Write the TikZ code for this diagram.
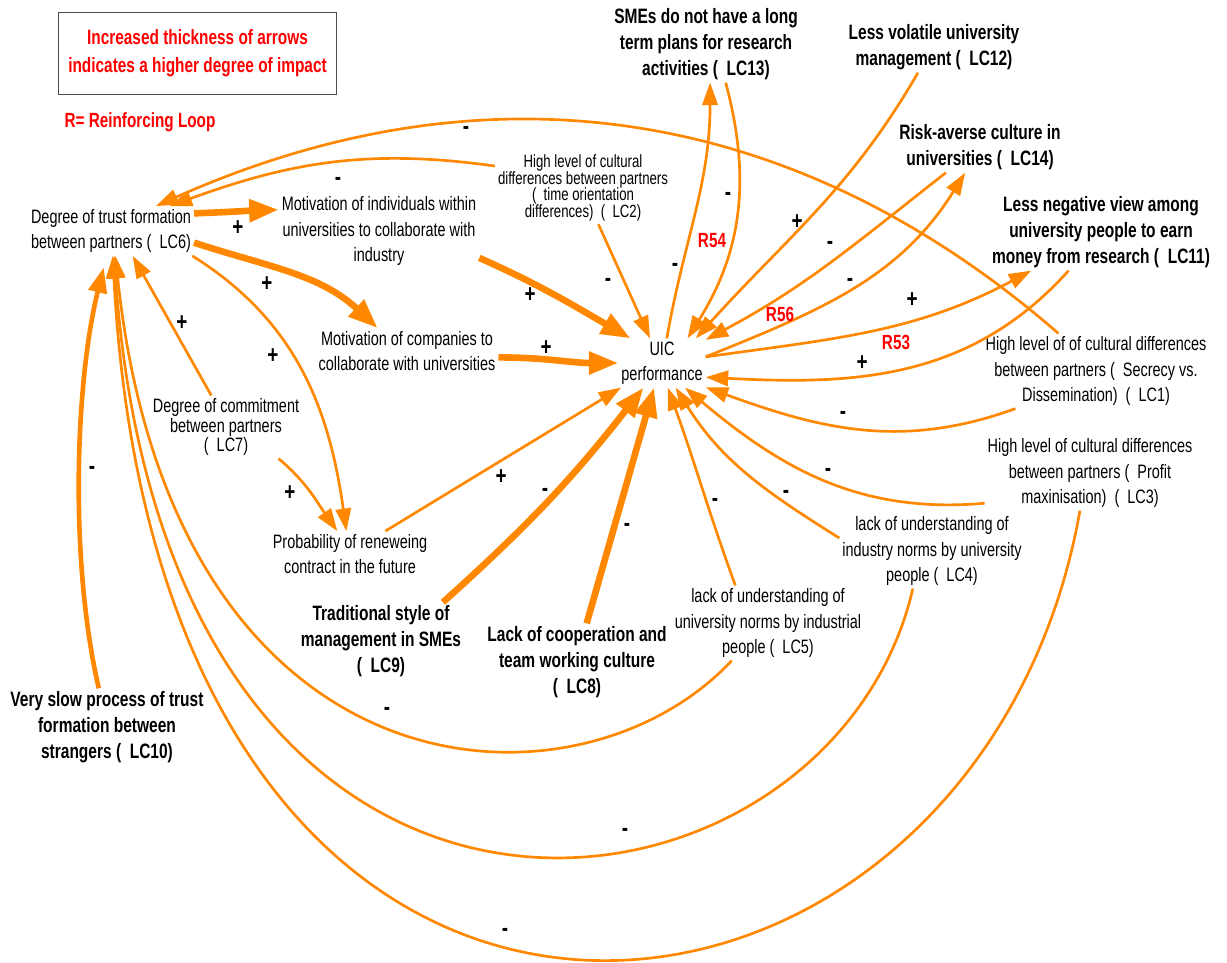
\documentclass[tikz,border=0pt]{standalone}
\usepackage{fontspec}
\setmainfont{Liberation Sans}[FakeStretch=0.745]
\usetikzlibrary{arrows.meta}
\definecolor{uicorange}{HTML}{FF8800}
\definecolor{loopred}{HTML}{FF0000}
\tikzstyle{factor}=[align=center, inner sep=2pt, font=\fontsize{13.8}{18.1}\selectfont]
\tikzstyle{keyfactor}=[factor, font=\fontsize{14.8}{18.4}\selectfont\bfseries]
\tikzstyle{thinlink}=[draw=uicorange, line width=1.9pt, -{Triangle[length=16pt, width=11pt]}]
\tikzstyle{midlink}=[thinlink, line width=3.3pt, -{Triangle[length=18pt, width=13pt]}]
\tikzstyle{boldlink}=[thinlink, line width=4.7pt, -{Triangle[length=21pt, width=15.5pt]}]
\tikzstyle{sgn}=[inner sep=0pt, font=\fontsize{18}{18}\selectfont\bfseries]
\tikzstyle{loopname}=[text=loopred, font=\fontsize{14.6}{17}\selectfont\bfseries]

\begin{document}
\begin{tikzpicture}[x=0.025cm, y=-0.025cm]
\useasboundingbox (0,0) rectangle (1227,962);

\node [draw=black!70, line width=0.8pt, minimum width=6.93cm, minimum height=2.03cm, align=center, text=loopred, font=\fontsize{14.7}{19.8}\selectfont\bfseries] (key) at (197.5,53.5) {Increased thickness of arrows\\indicates a higher degree of impact};
\node [loopname, font=\fontsize{14.6}{16}\selectfont\bfseries] (rnote) at (140,122) {R= Reinforcing Loop};

% factors
\node [factor] (LC6) at (111,231) {Degree of trust formation\\between partners (~~LC6)};
\node [factor] (MI) at (379,231) {Motivation of individuals within\\universities to collaborate with\\industry};
\node [factor] (MC) at (407,351) {Motivation of companies to\\collaborate with universities};
\node [factor, font=\fontsize{12.6}{11.8}\selectfont] (LC2) at (583,188) {High level of cultural\\differences between partners\\(~~time orientation\\differences)~~(~~LC2)};
\node [keyfactor] (LC13) at (706,44) {SMEs do not have a long\\term plans for research\\activities (~~LC13)};
\node [keyfactor] (LC12) at (934,47) {Less volatile university\\management (~~LC12)};
\node [keyfactor] (LC14) at (980,147) {Risk-averse culture in\\universities (~~LC14)};
\node [keyfactor] (LC11) at (1101,232) {Less negative view among\\university people to earn\\money from research (~~LC11)};
\node [factor] (UIC) at (662,363) {UIC\\performance};
\node [factor, font=\fontsize{13.8}{13.8}\selectfont] (LC7) at (226,427) {Degree of commitment\\between partners\\(~~LC7)};
\node [factor] (PR) at (350,554) {Probability of reneweing\\contract in the future};
\node [factor] (LC1) at (1096,371) {High level of of cultural differences\\between partners (~~Secrecy vs.\\Dissemination)~~(~~LC1)};
\node [factor] (LC3) at (1090,473) {High level of cultural differences\\between partners (~~Profit\\maxinisation)~~(~~LC3)};
\node [factor] (LC4) at (932,551) {lack of understanding of\\industry norms by university\\people (~~LC4)};
\node [factor] (LC5) at (768,623) {lack of understanding of\\university norms by industrial\\people (~~LC5)};
\node [keyfactor] (LC9) at (381,641) {Traditional style of\\management in SMEs\\(~~LC9)};
\node [keyfactor] (LC8) at (577,662) {Lack of cooperation and\\team working culture\\(~~LC8)};
\node [keyfactor] (LC10) at (107,727) {Very slow process of trust\\formation between\\strangers (~~LC10)};

% links around trust formation
\draw [boldlink] (LC6.12) to [out=2, in=182] (MI.168);
\draw [boldlink] (LC6.-8) to [out=-18, in=137] (MC.142);
\draw [thinlink] (LC6.-17) to [out=-32, in=98] (PR.99);
\draw [thinlink] (LC7.115) -- (LC6.-49);
\draw [thinlink] (LC7.-31) to [out=-40, in=125] (PR.119);
\draw [midlink, shorten >=0.3cm] (LC10.102) to [out=103, in=-104, out looseness=0.79, in looseness=0.75] (LC6.-100);
\draw [thinlink] (LC5.226) to [out=-133, in=-84, out looseness=0.78, in looseness=1.92] (LC6.-80);
\draw [thinlink] (LC4.243) to [out=-103, in=-86, out looseness=1.09, in looseness=2.33] (LC6.-83);
\draw [thinlink] (LC3.255) to [out=-100, in=-87, out looseness=1.52, in looseness=2.42] (LC6.-86);
\draw [thinlink] (LC1.135) to [out=139, in=24] (LC6.29);
\draw [thinlink] (LC2.166) to [out=172, in=20] (LC6.23);

% links into UIC performance
\draw [boldlink] (MI.-15) to [out=-24, in=150] (UIC.142);
\draw [boldlink] (MC.-4) to [out=0, in=180] (UIC.180);
\draw [thinlink] (LC2.-67) -- (UIC.116);
\draw [thinlink] (PR.33) -- (UIC.-149);
\draw [boldlink] (LC9.32) to [out=42, in=-128] (UIC.-127);
\draw [boldlink] (LC8.76) -- (UIC.-108);
\draw [thinlink] (LC5.131) to [out=110, in=-70] (UIC.-77);
\draw [thinlink] (LC4.172) to [out=148, in=-58] (UIC.-61);
\draw [thinlink] (LC3.196) to [out=185, in=-40] (UIC.-47);
\draw [thinlink] (LC1.205) to [out=200, in=-20] (UIC.-29);
\draw [thinlink] (LC11.230) to [out=228, in=-3] (UIC.-18);
\draw [thinlink] (LC14.217) to [out=218, in=28] (UIC.28);
\draw [thinlink] (LC12.238) to [out=240, in=48] (UIC.36);
\draw [thinlink] (LC13.-63) to [out=-75, in=58] (UIC.44);

% links out of UIC performance
\draw [thinlink] (UIC.79) to [out=80, in=-90] (LC13.-84);
\draw [thinlink] (UIC.8) to [out=22, in=238] (LC14.240);
\draw [thinlink] (UIC.8) to [out=8, in=208] (LC11.209);

% polarities
\node [sgn] (s1) at (238,228) {+};
\node [sgn] (s2) at (267,284) {+};
\node [sgn] (s3) at (273,356) {+};
\node [sgn] (s4) at (182,323) {+};
\node [sgn] (s5) at (290,493) {+};
\node [sgn] (s6) at (92,470) {-};
\node [sgn] (s7) at (530,295) {+};
\node [sgn] (s8) at (546,348) {+};
\node [sgn] (s9) at (608,282) {-};
\node [sgn] (s10) at (501,477) {+};
\node [sgn] (s11) at (545,492) {-};
\node [sgn] (s12) at (627,527) {-};
\node [sgn] (s13) at (715,502) {-};
\node [sgn] (s14) at (786,494) {-};
\node [sgn] (s15) at (828,472) {-};
\node [sgn] (s16) at (843,415) {-};
\node [sgn] (s17) at (862,363) {+};
\node [sgn] (s18) at (912,300) {+};
\node [sgn] (s19) at (850,282) {-};
\node [sgn] (s20) at (830,245) {-};
\node [sgn] (s21) at (797,222) {+};
\node [sgn] (s22) at (728,196) {-};
\node [sgn] (s23) at (675,267) {-};
\node [sgn] (s24) at (466,130) {-};
\node [sgn] (s25) at (338,181) {-};
\node [sgn] (s26) at (387,711) {-};
\node [sgn] (s27) at (625,832) {-};
\node [sgn] (s28) at (505,932) {-};

% reinforcing loops
\node [loopname] (R54) at (712,241) {R54};
\node [loopname] (R56) at (780,314) {R56};
\node [loopname] (R53) at (896,342) {R53};

\end{tikzpicture}
\end{document}
